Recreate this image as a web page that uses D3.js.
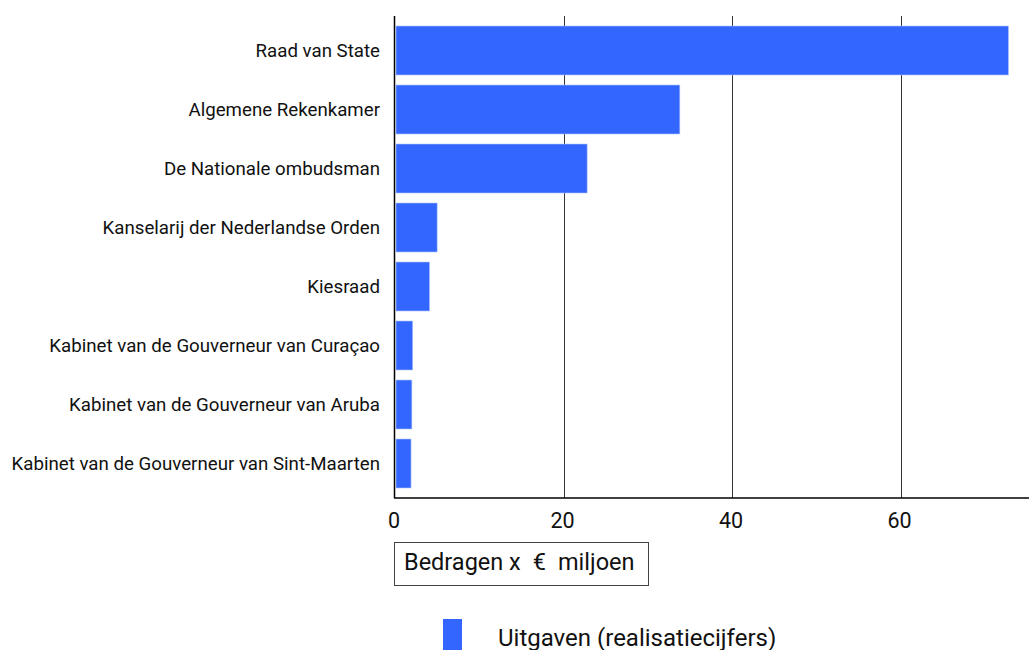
<!DOCTYPE html>
<html lang="nl">
<head>
    <meta charset="UTF-8">
    <title>Uitgaven</title>
    <script src="https://d3js.org/d3.v7.min.js"></script>
    <style>
        body { margin: 0; background: #fff; font-family: Roboto, sans-serif; }
        text { fill: #111; }
    </style>
</head>
<body>
    <svg width="1029" height="650"></svg>
    <script>
        const categories = [
            "Raad van State",
            "Algemene Rekenkamer",
            "De Nationale ombudsman",
            "Kanselarij der Nederlandse Orden",
            "Kiesraad",
            "Kabinet van de Gouverneur van Curaçao",
            "Kabinet van de Gouverneur van Aruba",
            "Kabinet van de Gouverneur van Sint-Maarten"
        ];
        const uitgaven = [72.8, 33.8, 22.8, 5.0, 4.1, 2.1, 2.0, 1.9];
        const xTicks = [0, 20, 40, 60];
        const seriesName = "Uitgaven (realisatiecijfers)";
        const axisTitleParts = ["Bedragen x", "€", "miljoen"];

        const data = categories.map((c, i) => ({ name: c, value: uitgaven[i] }));

        const plotLeft = 395, plotRight = 1027, plotTop = 16, plotBottom = 498;
        const svg = d3.select("svg");

        const x = d3.scaleLinear().domain([0, 75]).range([plotLeft, plotRight]);
        const y = d3.scaleBand()
            .domain(categories)
            .range([21, 493])
            .paddingInner(0.17)
            .paddingOuter(0.085);

        // rasterlijnen
        svg.append("g")
            .selectAll("line")
            .data(xTicks.slice(1))
            .join("line")
            .attr("x1", d => Math.round(x(d)) + 0.5)
            .attr("x2", d => Math.round(x(d)) + 0.5)
            .attr("y1", plotTop)
            .attr("y2", plotBottom)
            .attr("stroke", "#333")
            .attr("stroke-width", 1);

        // balken
        svg.append("g")
            .selectAll("rect")
            .data(data)
            .join("rect")
            .attr("x", x(0) + 1)
            .attr("y", d => y(d.name))
            .attr("width", d => x(d.value) - x(0) - 1)
            .attr("height", y.bandwidth())
            .attr("fill", "#3366ff")
            .attr("stroke", "#a9bfff")
            .attr("stroke-width", 0.6);

        // assen
        svg.append("line")
            .attr("x1", plotLeft - 0.5).attr("x2", plotLeft - 0.5)
            .attr("y1", plotTop).attr("y2", plotBottom)
            .attr("stroke", "#000").attr("stroke-width", 1.5);
        svg.append("line")
            .attr("x1", plotLeft - 1).attr("x2", 1029)
            .attr("y1", plotBottom).attr("y2", plotBottom)
            .attr("stroke", "#000").attr("stroke-width", 1.5);

        // categorie labels
        svg.append("g")
            .selectAll("text")
            .data(categories)
            .join("text")
            .attr("x", 380)
            .attr("y", d => y(d) + y.bandwidth() / 2)
            .attr("dy", "0.35em")
            .attr("text-anchor", "end")
            .style("font-size", "18.7px")
            .text(d => d);

        // x tick labels
        svg.append("g")
            .selectAll("text")
            .data(xTicks)
            .join("text")
            .attr("x", d => x(d) - 1)
            .attr("y", 520)
            .attr("dy", "0.35em")
            .attr("text-anchor", "middle")
            .style("font-size", "21.5px")
            .text(d => d);

        // as titel in kader
        svg.append("rect")
            .attr("x", 394.5).attr("y", 542.5)
            .attr("width", 254).attr("height", 43)
            .attr("fill", "#fff")
            .attr("stroke", "#444").attr("stroke-width", 1);
        const title = svg.append("text")
            .attr("x", 404).attr("y", 570)
            .style("font-size", "23.5px");
        title.selectAll("tspan")
            .data(axisTitleParts)
            .join("tspan")
            .attr("dx", (d, i) => i === 0 ? 0 : 12)
            .text(d => d);

        // legenda
        svg.append("rect")
            .attr("x", 443).attr("y", 619)
            .attr("width", 19).attr("height", 31)
            .attr("fill", "#3366ff");
        svg.append("text")
            .attr("x", 498).attr("y", 646)
            .style("font-size", "24px")
            .text(seriesName);
    </script>
</body>
</html>
